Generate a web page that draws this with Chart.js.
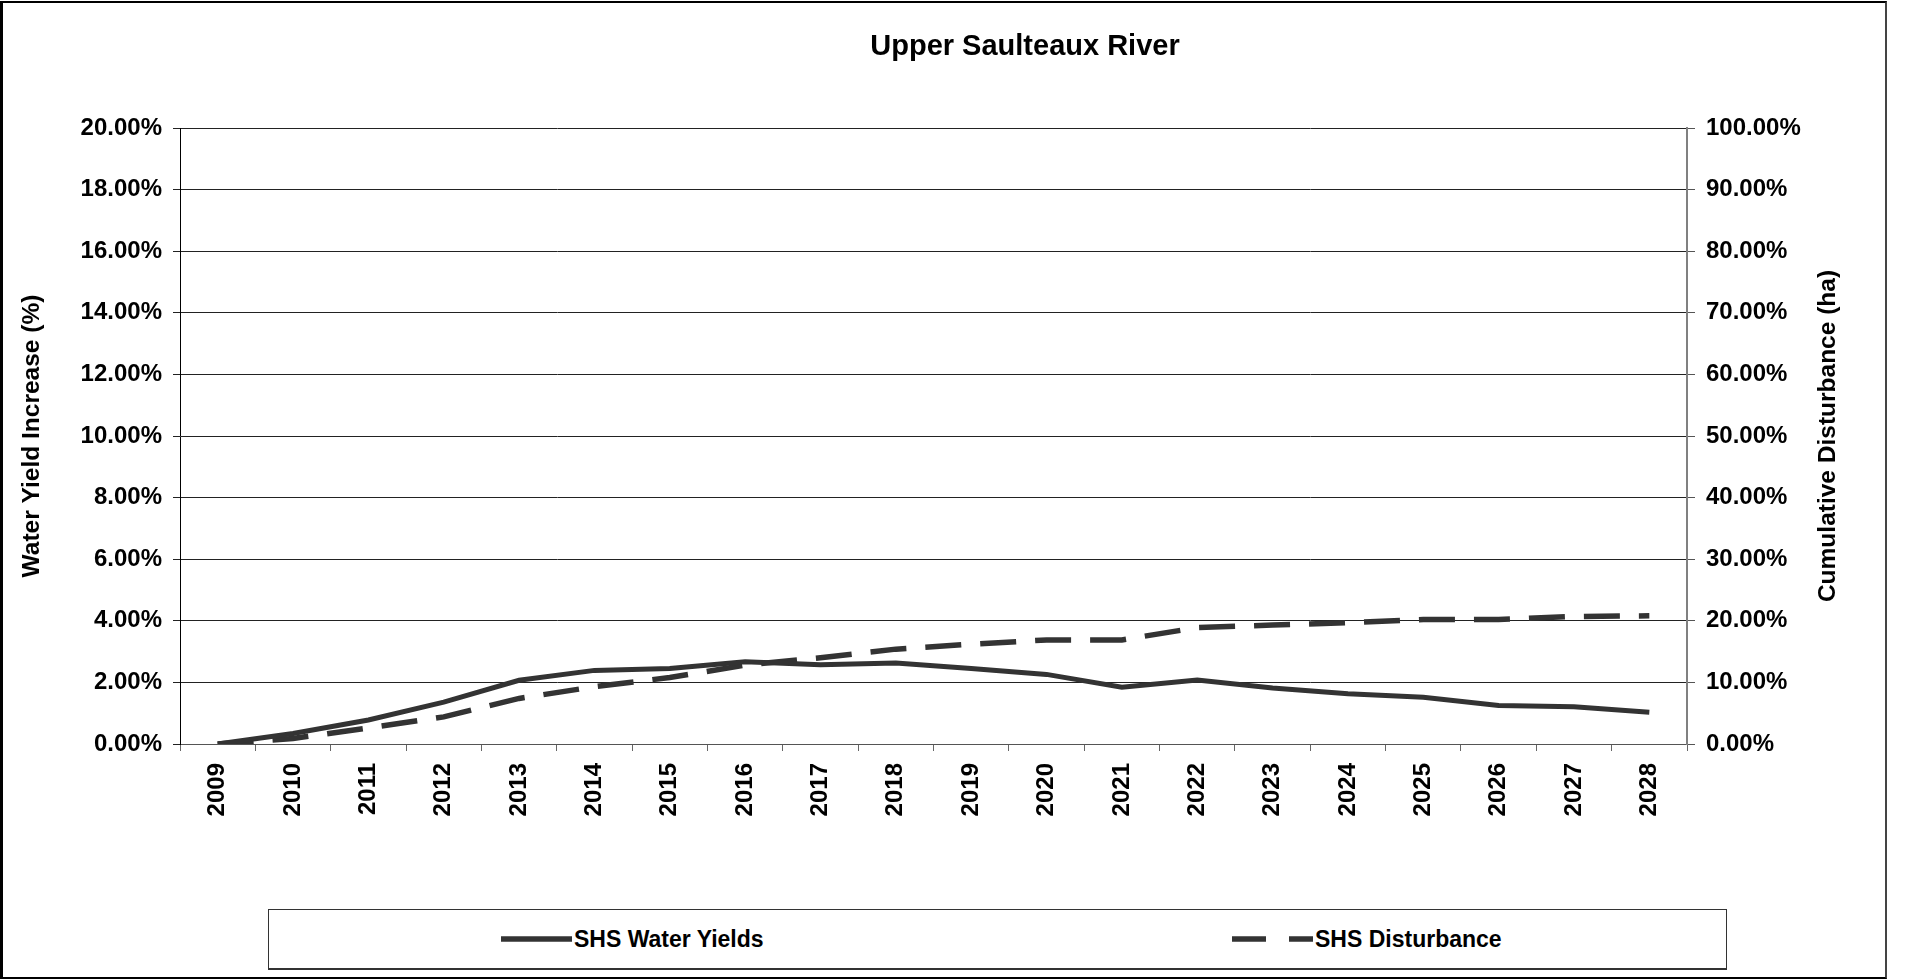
<!DOCTYPE html>
<html>
<head>
<meta charset="utf-8">
<title>Upper Saulteaux River</title>
<script src="https://cdn.jsdelivr.net/npm/chart.js@4.4.1/dist/chart.umd.min.js"></script>
<style>
  body { margin: 0; background: #fff; font-family: 'Liberation Sans', Arial, sans-serif; }
  #quadro { position: absolute; left: 0; top: 0; width: 1907px; height: 979px; }
  #grafico { position: absolute; left: 0; top: 0; }
  #borda {
    position: absolute; left: 0; top: 1px; width: 1887px; height: 978px;
    box-sizing: border-box; border: 2px solid #000; border-left-width: 3px;
    border-right-color: #444; pointer-events: none;
  }
  #legenda {
    position: absolute; left: 268px; top: 909px; width: 1459px; height: 61px;
    box-sizing: border-box; border: 1px solid #333; border-bottom-width: 2px; background: #fff;
  }
  .item-legenda { position: absolute; top: 0; height: 58px; display: flex; align-items: center; }
  .item-legenda span { font: bold 23px 'Liberation Sans', Arial, sans-serif; color: #000; white-space: nowrap; margin-left: 2px; }
</style>
</head>
<body>
<div id="quadro">
  <canvas id="grafico" width="1907" height="979"></canvas>
  <div id="legenda"></div>
  <div id="borda"></div>
</div>
<script>
const titulo = 'Upper Saulteaux River';
const tituloEsquerdo = 'Water Yield Increase (%)';
const tituloDireito = 'Cumulative Disturbance (ha)';

const anos = ['2009', '2010', '2011', '2012', '2013', '2014', '2015', '2016', '2017', '2018',
  '2019', '2020', '2021', '2022', '2023', '2024', '2025', '2026', '2027', '2028'];

// % aumento do rendimento de agua (eixo esquerdo)
const rendimentoAgua = [0, 0.34, 0.78, 1.36, 2.07, 2.39, 2.45, 2.67, 2.57, 2.63,
  2.45, 2.26, 1.84, 2.08, 1.82, 1.63, 1.52, 1.25, 1.21, 1.03];

// % perturbacao acumulada (eixo direito)
const perturbacao = [0, 0.9, 2.6, 4.4, 7.4, 9.3, 10.8, 12.8, 14.0, 15.4,
  16.2, 16.9, 16.9, 18.9, 19.3, 19.7, 20.2, 20.2, 20.7, 20.8];

const nomesSeries = ['SHS Water Yields', 'SHS Disturbance'];

const FONTE = "'Liberation Sans', Arial, sans-serif";
const COR_LINHA = '#333333';

Chart.defaults.font.family = FONTE;
Chart.defaults.color = '#000';

const formatarPct = v => Number(v).toFixed(2) + '%';

// titulo do eixo direito lido de baixo para cima, como o da esquerda
const pluginTituloDireito = {
  id: 'tituloDireito',
  afterLayout(chart) {
    // o titulo do original fica um pouco a direita do centro
    chart.titleBlock.left = 143;
  },
  afterDraw(chart) {
    const { ctx, chartArea } = chart;
    const escala = chart.scales.y1;
    ctx.save();
    ctx.translate(escala.right - 79, (chartArea.top + chartArea.bottom) / 2);
    ctx.rotate(-Math.PI / 2);
    ctx.font = 'bold 24.5px ' + FONTE;
    ctx.fillStyle = '#000';
    ctx.textAlign = 'center';
    ctx.textBaseline = 'middle';
    ctx.fillText(tituloDireito, 0, 0);
    ctx.restore();
  }
};

const grafico = new Chart(document.getElementById('grafico'), {
  type: 'line',
  data: {
    labels: anos,
    datasets: [
      {
        label: nomesSeries[0],
        data: rendimentoAgua,
        yAxisID: 'y',
        borderColor: COR_LINHA,
        borderWidth: 5,
        borderDash: [],
        pointRadius: 0,
        tension: 0,
        fill: false
      },
      {
        label: nomesSeries[1],
        data: perturbacao,
        yAxisID: 'y1',
        borderColor: COR_LINHA,
        borderWidth: 5.5,
        borderDash: [36, 19],
        borderCapStyle: 'butt',
        pointRadius: 0,
        tension: 0,
        fill: false
      }
    ]
  },
  options: {
    responsive: false,
    devicePixelRatio: 1,
    animation: false,
    layout: { padding: { top: 0, left: 0, right: 0, bottom: 145 } },
    plugins: {
      legend: { display: false },
      tooltip: { enabled: false },
      title: {
        display: true,
        text: titulo,
        color: '#000',
        font: { size: 29, weight: 'bold' },
        padding: { top: 29.8, bottom: 63.4 }
      }
    },
    scales: {
      x: {
        offset: true,
        grid: { offset: true, drawOnChartArea: false, tickLength: 7, color: '#666', lineWidth: 1 },
        border: { color: '#555', width: 1 },
        ticks: {
          minRotation: 90,
          maxRotation: 90,
          autoSkip: false,
          padding: 12,
          font: { size: 24, weight: 'bold' },
          color: '#000'
        },
        afterFit: escala => { escala.height = 90; }
      },
      y: {
        position: 'left',
        min: 0,
        max: 20,
        grid: { color: '#222', lineWidth: 1, tickLength: 7 },
        border: { color: '#000', width: 1 },
        ticks: {
          stepSize: 2,
          padding: 11,
          font: { size: 24, weight: 'bold' },
          color: '#000',
          callback: formatarPct
        },
        title: {
          display: true,
          text: tituloEsquerdo,
          color: '#000',
          font: { size: 24.5, weight: 'bold' },
          padding: { top: 18, bottom: 0 }
        },
        afterFit: escala => { escala.width = 180; }
      },
      y1: {
        position: 'right',
        min: 0,
        max: 100,
        grid: { drawOnChartArea: false, color: '#555', tickLength: 8 },
        border: { color: '#808080', width: 2 },
        ticks: {
          stepSize: 10,
          padding: 11,
          font: { size: 24, weight: 'bold' },
          color: '#000',
          callback: formatarPct
        },
        afterFit: escala => { escala.width = 220; }
      }
    }
  },
  plugins: [pluginTituloDireito]
});

// legenda em HTML, montada a partir das series do grafico
const legenda = document.getElementById('legenda');
const posicoesLegenda = [232, 963];
const largurasAmostra = [71, 81];

grafico.data.datasets.forEach((ds, i) => {
  const item = document.createElement('div');
  item.className = 'item-legenda';
  item.style.left = posicoesLegenda[i] + 'px';

  const amostra = document.createElement('canvas');
  amostra.width = largurasAmostra[i];
  amostra.height = 12;
  const c = amostra.getContext('2d');
  c.strokeStyle = ds.borderColor;
  c.lineWidth = 5.5;
  c.setLineDash(ds.borderDash.length ? [34, 23] : []);
  c.beginPath();
  c.moveTo(0, 6);
  c.lineTo(amostra.width, 6);
  c.stroke();

  const texto = document.createElement('span');
  texto.textContent = ds.label;

  item.appendChild(amostra);
  item.appendChild(texto);
  legenda.appendChild(item);
});
</script>
</body>
</html>
